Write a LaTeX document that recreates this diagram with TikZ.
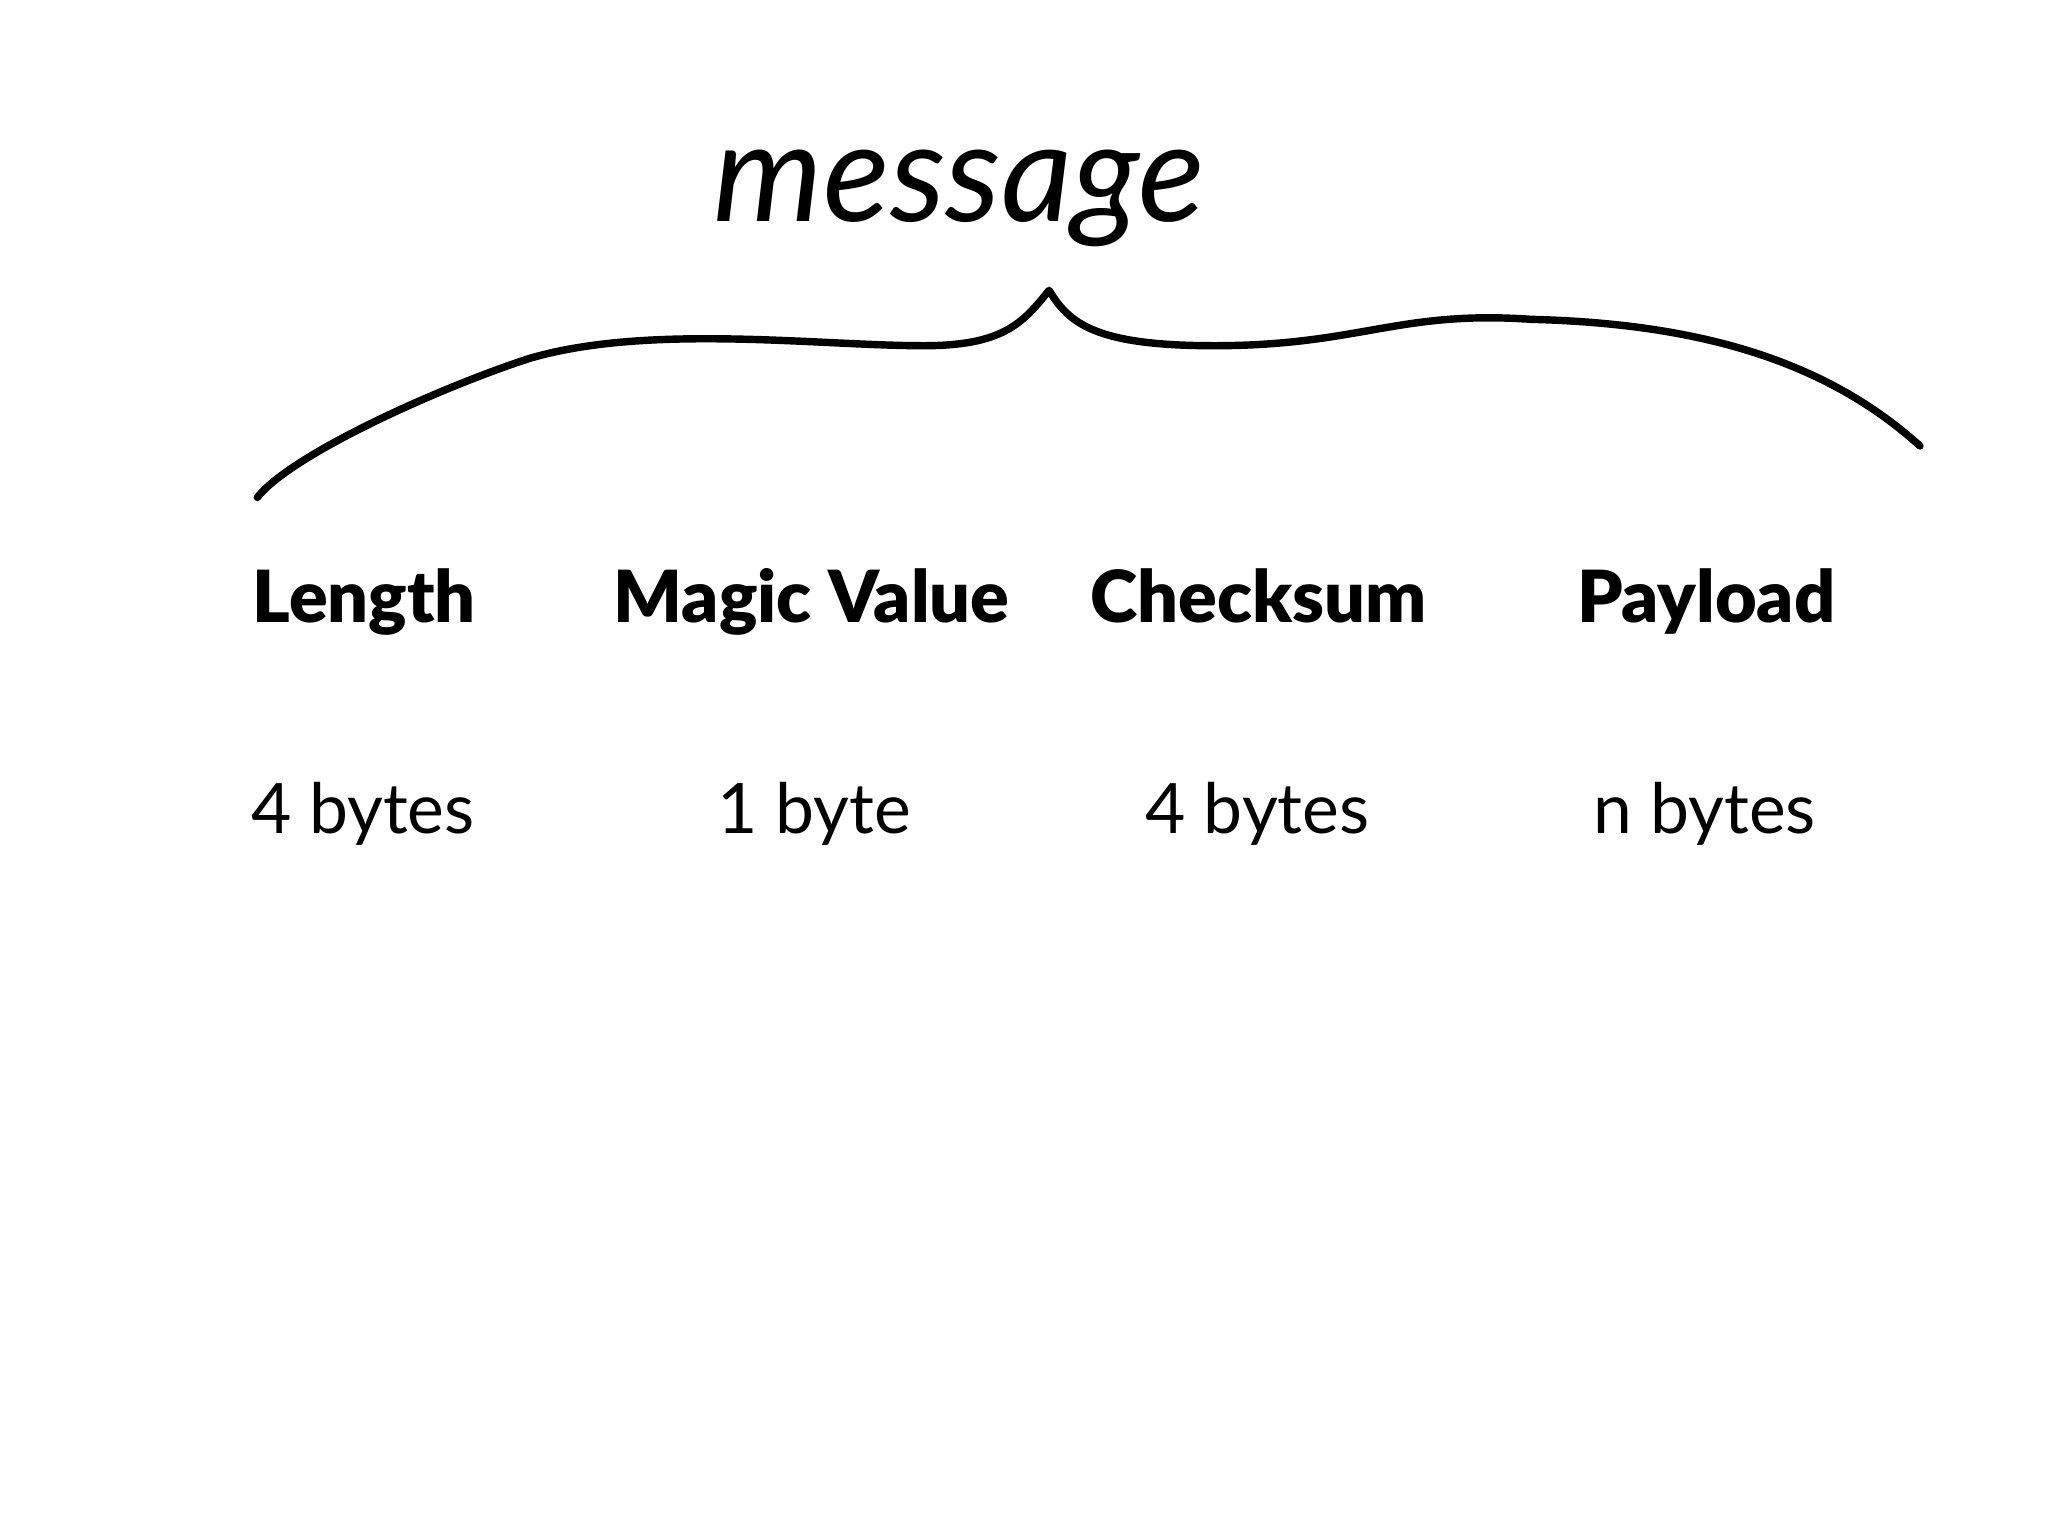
\documentclass[tikz,border=0pt]{standalone}
\usepackage{fontspec}
\setmainfont{Lato}
\newfontfamily\blackfont{Lato Black}
\begin{document}
\begin{tikzpicture}[x=1cm,y=-1cm,
  head/.style={font=\fontsize{15.5}{18}\blackfont, anchor=base},
  size/.style={font=\fontsize{15}{18}\selectfont, anchor=base},
  brace/.style={line width=1.6pt, line cap=round, line join=round}]
\useasboundingbox (0,0) rectangle (15.52,11.64);
\node[font=\fontsize{30}{34}\selectfont\itshape, anchor=base] (msg) at (7.27,1.68) {message};
\draw[brace] (1.95,3.77) .. controls (2.2,3.45) and (3.3,2.95) .. (4.0,2.72)
  .. controls (4.9,2.45) and (6.2,2.62) .. (7.0,2.62)
  .. controls (7.6,2.62) and (7.75,2.45) .. (7.95,2.2)
  .. controls (8.1,2.45) and (8.3,2.62) .. (9.2,2.62)
  .. controls (10.3,2.62) and (10.6,2.35) .. (11.6,2.42)
  .. controls (12.8,2.45) and (13.8,2.7) .. (14.55,3.38);
\node[head] (h1) at (2.76,4.72) {Length};
\node[head] (h2) at (6.15,4.72) {Magic Value};
\node[head] (h3) at (9.54,4.72) {Checksum};
\node[head] (h4) at (12.93,4.72) {Payload};
\node[size] (s1) at (2.75,6.32) {4 bytes};
\node[size] (s2) at (6.17,6.32) {1 byte};
\node[size] (s3) at (9.53,6.32) {4 bytes};
\node[size] (s4) at (12.92,6.32) {n bytes};
\end{tikzpicture}
\end{document}
